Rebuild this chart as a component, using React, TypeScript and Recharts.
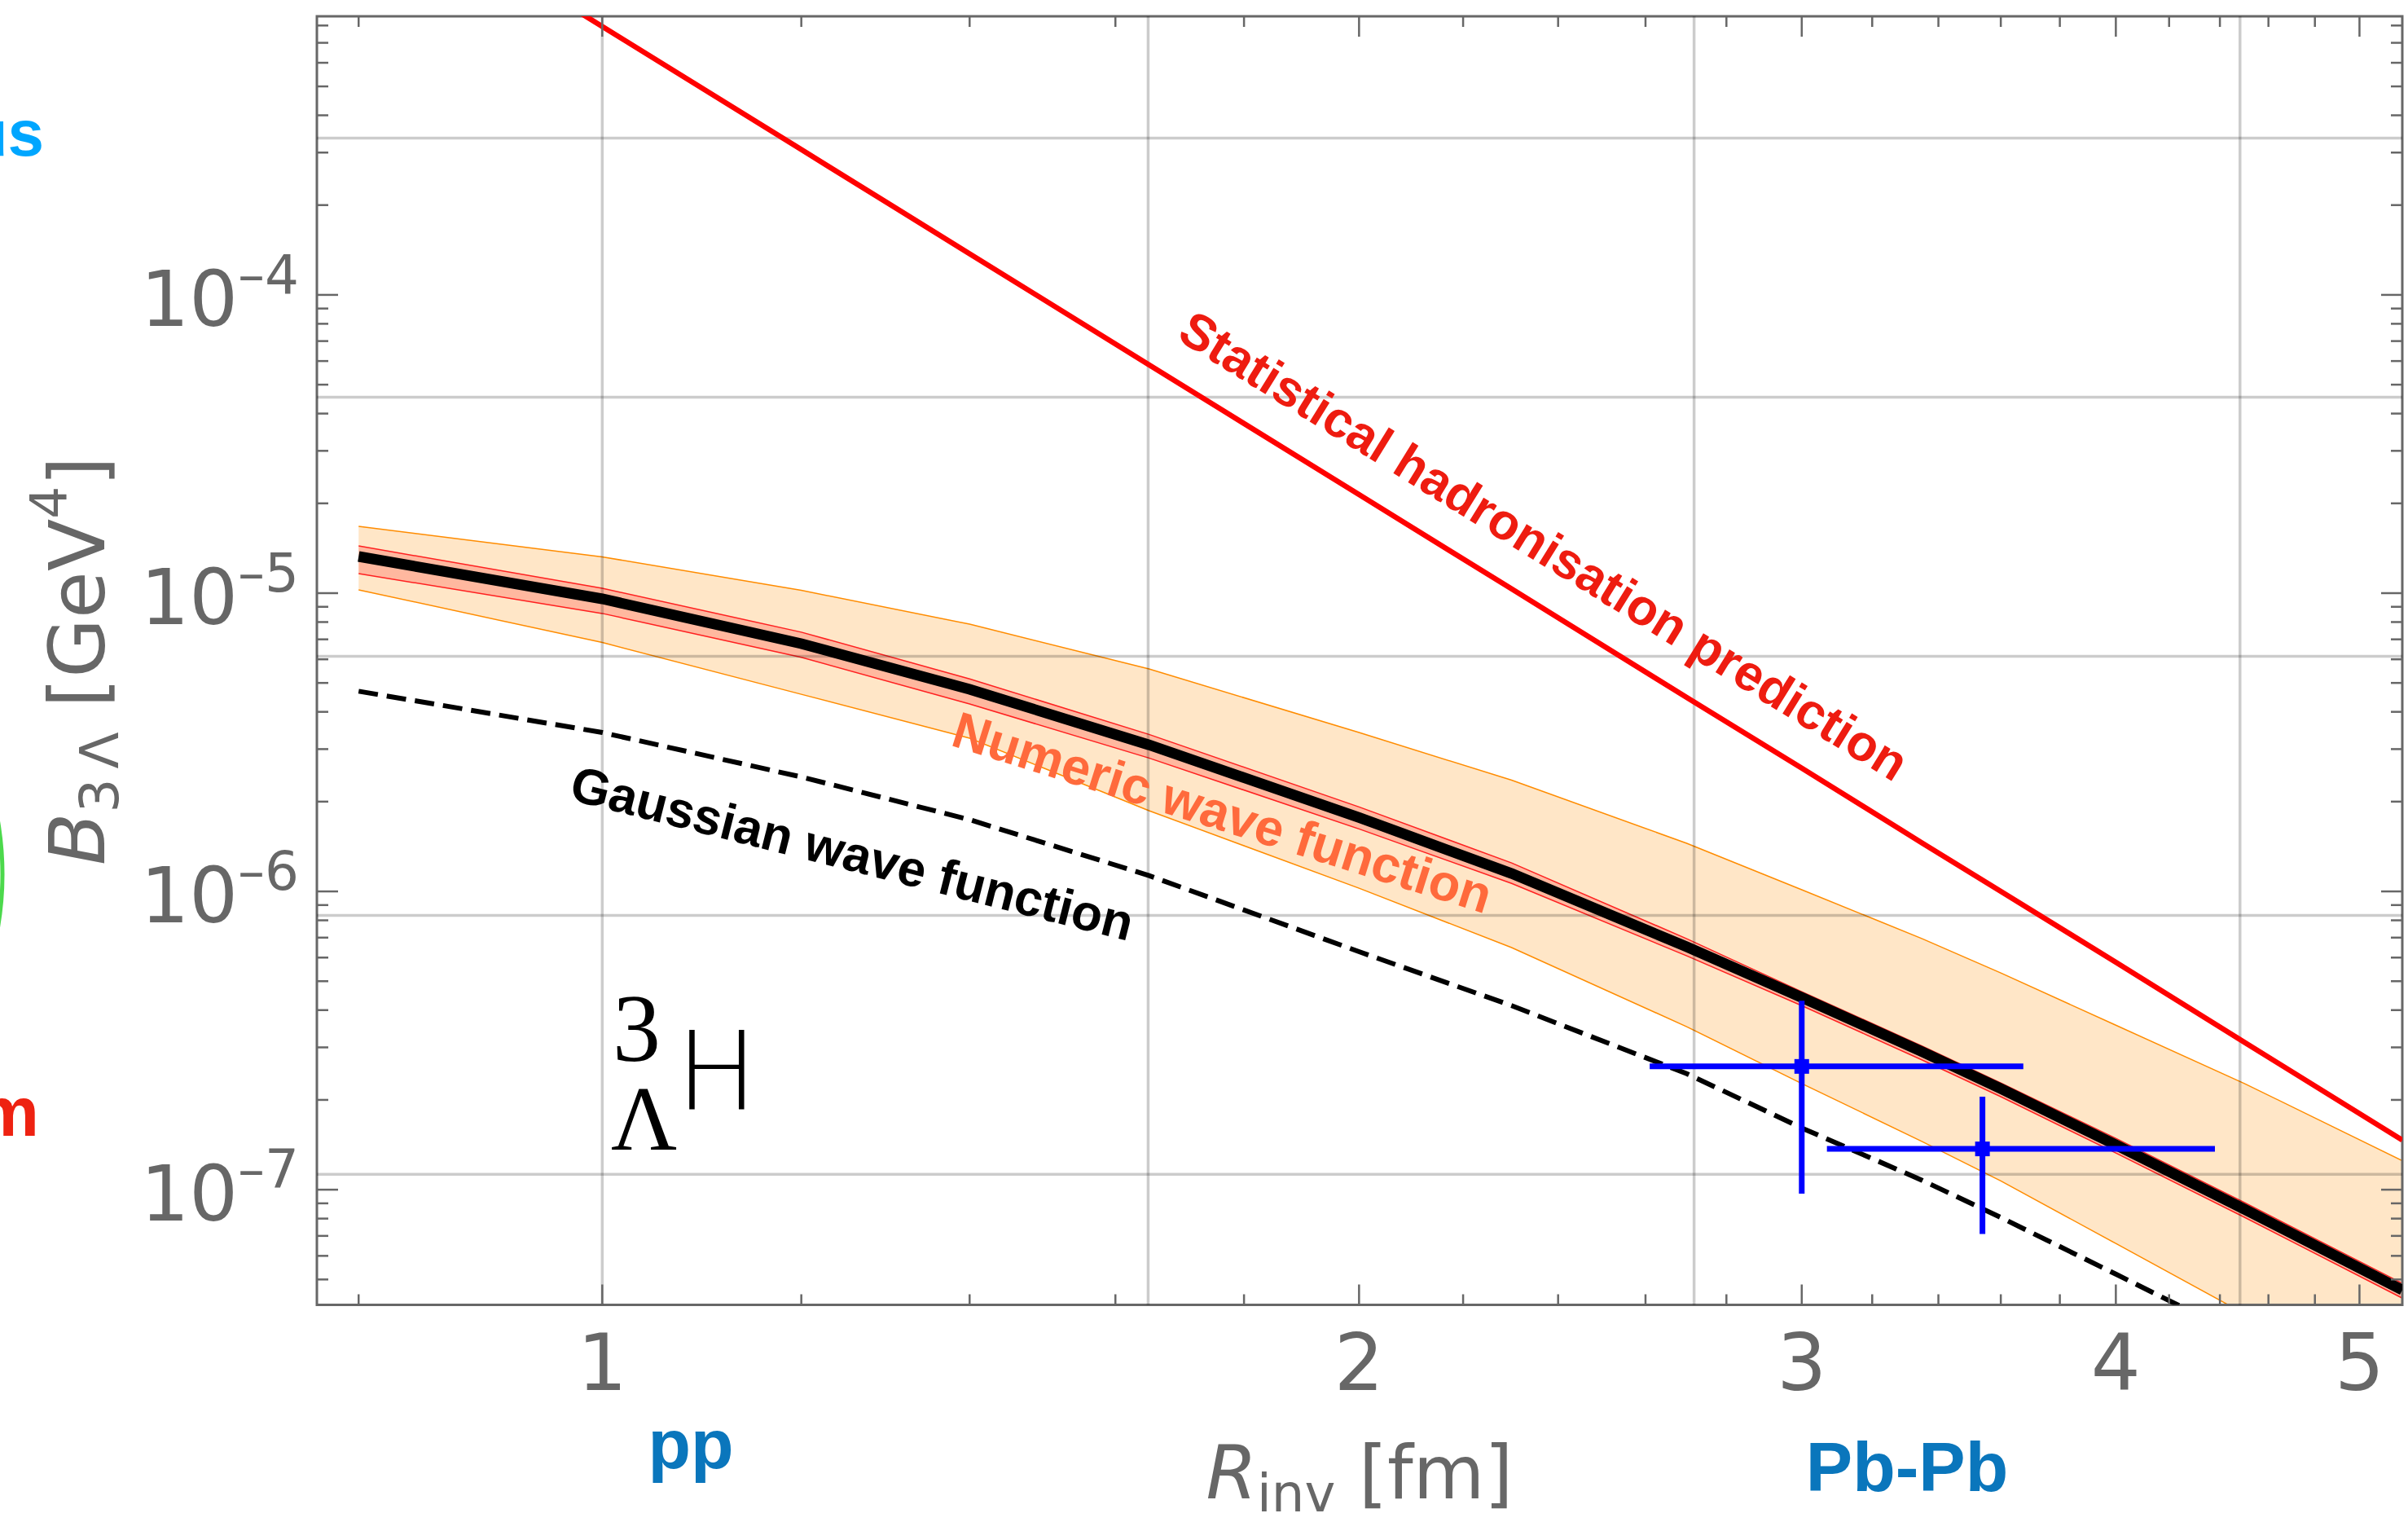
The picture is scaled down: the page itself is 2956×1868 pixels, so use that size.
import React from 'react';
import {
  ComposedChart,
  Line,
  Area,
  Scatter,
  ErrorBar,
  XAxis,
  YAxis,
  ReferenceLine,
  ReferenceArea,
} from 'recharts';

// canvas + plot frame (pixels)
const W = 2956;
const H = 1868;
const PLOT_LEFT = 389;
const PLOT_RIGHT = 2949;
const PLOT_TOP = 20;
const PLOT_BOTTOM = 1601.5;

const AXIS = '#676767';

// axis ranges
const X_DOMAIN = [0.77, 5.2];
const Y_DOMAIN = [4.11e-8, 8.59e-4];

// R_inv [fm] at which the curves were read
const R_INV = [0.8, 1.0, 1.2, 1.4, 1.65, 2.0, 2.3, 2.7, 3.0, 3.35, 3.6, 4.0, 4.5, 5.2];
// numeric wave function (central) and its two bands
const NUMERIC = [1.327e-5, 9.57e-6, 6.77e-6, 4.76e-6, 3.1e-6, 1.77e-6, 1.148e-6, 6.52e-7, 4.41e-7, 2.9e-7, 2.18e-7, 1.413e-7, 8.6e-8, 4.61e-8];
const NUMERIC_LO = [1.163e-5, 8.55e-6, 6.09e-6, 4.25e-6, 2.8e-6, 1.62e-6, 1.064e-6, 6.08e-7, 4.14e-7, 2.72e-7, 2.05e-7, 1.327e-7, 8.08e-8, 4.33e-8];
const NUMERIC_HI = [1.44e-5, 1.038e-5, 7.4e-6, 5.16e-6, 3.36e-6, 1.92e-6, 1.246e-6, 6.94e-7, 4.61e-7, 3.03e-7, 2.28e-7, 1.486e-7, 9.05e-8, 4.85e-8];
const UNC_LO = [1.026e-5, 6.83e-6, 4.58e-6, 3.265e-6, 1.865e-6, 1.025e-6, 6.48e-7, 3.52e-7, 2.27e-7, 1.45e-7, 1.07e-7, 6.6e-8, 3.84e-8, 1.94e-8];
const UNC_HI = [1.675e-5, 1.323e-5, 1.022e-5, 7.87e-6, 5.57e-6, 3.41e-6, 2.36e-6, 1.45e-6, 1.013e-6, 6.94e-7, 5.33e-7, 3.56e-7, 2.27e-7, 1.25e-7];
// gaussian wave function (dashed)
const GAUSSIAN = [4.69e-6, 3.41e-6, 2.42e-6, 1.74e-6, 1.13e-6, 6.28e-7, 4.14e-7, 2.45e-7, 1.61e-7, 1.075e-7, 8.07e-8, 5.21e-8, 3.18e-8, 1.7e-8];
// statistical hadronisation prediction (red)
const SHM = [2.54e-3, 7.94e-4, 3.07e-4, 1.374e-4, 5.83e-5, 2.14e-5, 1.033e-5, 4.47e-6, 2.59e-6, 1.453e-6, 1.0e-6, 5.79e-7, 3.12e-7, 1.467e-7];

// measured points (Pb-Pb)
const DATA_R = [3.0, 3.54];
const DATA_B = [2.59e-7, 1.37e-7];
const DATA_R_ERR = [[0.39, 0.675], [0.47, 0.84]];
const DATA_B_ERR = [[1.62e-7, 1.71e-7], [6.6e-8, 6.8e-8]];

// ticks and grid
const X_TICKS = [0.8, 1, 1.2, 1.4, 1.6, 1.8, 2, 2.2, 2.4, 2.6, 2.8, 3, 3.2, 3.4, 3.6, 3.8, 4, 4.2, 4.4, 4.6, 4.8, 5];
const X_LABELED = [1, 2, 3, 4, 5];
const Y_DECADES = [1e-8, 1e-7, 1e-6, 1e-5, 1e-4];
const Y_MULT = [1, 2, 3, 4, 5, 6, 7, 8, 9];
const GRID_R = [1, 1.6487, 2.7183, 4.4817];
const GRID_B = [1.1254e-7, 8.3153e-7, 6.1442e-6, 4.54e-5, 3.3546e-4];

const curveData = R_INV.map((r, i) => ({
  r,
  numeric: NUMERIC[i],
  inner: [NUMERIC_LO[i], NUMERIC_HI[i]],
  outer: [UNC_LO[i], UNC_HI[i]],
  gauss: GAUSSIAN[i],
  shm: SHM[i],
}));

const pointData = DATA_R.map((r, i) => ({
  r,
  b: DATA_B[i],
  rErr: DATA_R_ERR[i],
  bErr: DATA_B_ERR[i],
}));

const yTicks = Y_DECADES.flatMap((d) => Y_MULT.map((m) => m * d)).filter(
  (v) => v >= Y_DOMAIN[0] && v <= Y_DOMAIN[1]
);

const XTick = (props: any) => {
  const { x, payload } = props;
  const major = X_LABELED.includes(payload.value);
  const len = major ? 25 : 13;
  return (
    <g>
      <line x1={x} x2={x} y1={PLOT_BOTTOM} y2={PLOT_BOTTOM - len} stroke={AXIS} strokeWidth={2.5} />
      <line x1={x} x2={x} y1={PLOT_TOP} y2={PLOT_TOP + len} stroke={AXIS} strokeWidth={2.5} />
      {major && (
        <text x={x} y={PLOT_BOTTOM + 104} textAnchor="middle" fill={AXIS} fontFamily="DejaVu Sans" fontSize={96}>
          {payload.value}
        </text>
      )}
    </g>
  );
};

const YTick = (props: any) => {
  const { y, payload } = props;
  const v = payload.value;
  const exp = Math.round(Math.log10(v));
  const major = Math.abs(v / Math.pow(10, exp) - 1) < 1e-6;
  const len = major ? 26 : 14;
  return (
    <g>
      <line x1={PLOT_LEFT} x2={PLOT_LEFT + len} y1={y} y2={y} stroke={AXIS} strokeWidth={2.5} />
      <line x1={PLOT_RIGHT - len} x2={PLOT_RIGHT} y1={y} y2={y} stroke={AXIS} strokeWidth={2.5} />
      {major && (
        <text x={PLOT_LEFT - 22} y={y + 38} textAnchor="end" fill={AXIS} fontFamily="DejaVu Sans" fontSize={94}>
          10
          <tspan dy={-40} fontSize={66}>
            {'\u2013' + Math.abs(exp)}
          </tspan>
        </text>
      )}
    </g>
  );
};

const PointMarker = (props: any) => {
  const { cx, cy } = props;
  return <rect x={cx - 9} y={cy - 9} width={18} height={18} fill="#0000ff" />;
};

export default function App() {
  return (
    <div style={{ position: 'absolute', left: 0, top: 0, width: W, height: H, background: '#fff' }}>
      <ComposedChart
        width={W}
        height={H}
        data={curveData}
        margin={{ top: PLOT_TOP, right: W - PLOT_RIGHT, bottom: H - PLOT_BOTTOM - 1, left: PLOT_LEFT - 1 }}
      >
        <XAxis
          dataKey="r"
          type="number"
          scale="log"
          domain={X_DOMAIN}
          allowDataOverflow
          ticks={X_TICKS}
          interval={0}
          height={1}
          axisLine={false}
          tickLine={false}
          tick={XTick}
        />
        <YAxis
          type="number"
          scale="log"
          domain={Y_DOMAIN}
          allowDataOverflow
          ticks={yTicks}
          interval={0}
          width={1}
          axisLine={false}
          tickLine={false}
          tick={YTick}
        />
        {GRID_R.map((v) => (
          <ReferenceLine key={`gx${v}`} x={v} stroke="rgba(0,0,0,0.2)" strokeWidth={3.5} />
        ))}
        {GRID_B.map((v) => (
          <ReferenceLine key={`gy${v}`} y={v} stroke="rgba(0,0,0,0.2)" strokeWidth={3.5} />
        ))}
        <Area
          dataKey="outer"
          type="linear"
          fill="#ff8c00"
          fillOpacity={0.22}
          stroke="#ff8c00"
          strokeWidth={1.5}
          dot={false}
          activeDot={false}
          isAnimationActive={false}
        />
        <Area
          dataKey="inner"
          type="linear"
          fill="#ff0000"
          fillOpacity={0.2}
          stroke="#ff2020"
          strokeWidth={1.5}
          dot={false}
          activeDot={false}
          isAnimationActive={false}
        />
        <Line
          dataKey="gauss"
          type="linear"
          stroke="#000"
          strokeWidth={6}
          strokeDasharray="24 11"
          dot={false}
          activeDot={false}
          isAnimationActive={false}
        />
        <Line
          dataKey="shm"
          type="linear"
          stroke="#ff0000"
          strokeWidth={6.5}
          dot={false}
          activeDot={false}
          isAnimationActive={false}
        />
        <Line
          dataKey="numeric"
          type="linear"
          stroke="#000"
          strokeWidth={13}
          dot={false}
          activeDot={false}
          isAnimationActive={false}
        />
        <Scatter data={pointData} dataKey="b" shape={PointMarker} isAnimationActive={false}>
          <ErrorBar dataKey="bErr" direction="y" width={0} stroke="#0000ff" strokeWidth={7} />
          <ErrorBar dataKey="rErr" direction="x" width={0} stroke="#0000ff" strokeWidth={7} />
        </Scatter>
        <ReferenceArea
          x1={X_DOMAIN[0]}
          x2={X_DOMAIN[1]}
          y1={Y_DOMAIN[0]}
          y2={Y_DOMAIN[1]}
          fill="none"
          stroke={AXIS}
          strokeWidth={3}
        />
      </ComposedChart>

      <svg
        width={W}
        height={H}
        style={{ position: 'absolute', left: 0, top: 0, pointerEvents: 'none' }}
      >
        {/* bits of the slide cut off at the left */}
        <text x={54} y={191} textAnchor="end" fontFamily="Liberation Sans" fontWeight="bold" fontSize={80} fill="#00a6ff">
          us
        </text>
        <text x={48} y={1394} textAnchor="end" fontFamily="Liberation Sans" fontWeight="bold" fontSize={86} fill="#ee2211">
          m
        </text>
        <circle cx={-382} cy={1073} r={385} fill="none" stroke="#4cd94c" strokeWidth={5} />

        {/* axis titles */}
        <text transform="translate(128,811) rotate(-90)" textAnchor="middle" fontFamily="DejaVu Sans" fontSize={94} fill={AXIS}>
          <tspan fontStyle="italic">B</tspan>
          <tspan fontSize={66} dy={17}>3</tspan>
          <tspan fontSize={66} dx={12}>Λ</tspan>
          <tspan dy={-17}>{'\u00a0[GeV'}</tspan>
          <tspan fontSize={63} dy={-46}>4</tspan>
          <tspan dy={46}>]</tspan>
        </text>
        <text x={1669} y={1839} textAnchor="middle" fontFamily="DejaVu Sans" fontSize={90} fill={AXIS}>
          <tspan fontStyle="italic">R</tspan>
          <tspan fontSize={64} dy={16}>inv</tspan>
          <tspan dy={-16}>{'\u00a0[fm]'}</tspan>
        </text>

        {/* collision systems */}
        <text x={848} y={1802} textAnchor="middle" fontFamily="Liberation Sans" fontWeight="bold" fontSize={86} fill="#0a76bc">
          pp
        </text>
        <text x={2341} y={1830} textAnchor="middle" fontFamily="Liberation Sans" fontWeight="bold" fontSize={86} fill="#0a76bc">
          Pb-Pb
        </text>

        {/* curve labels */}
        <text transform="translate(1884,688) rotate(31.7)" textAnchor="middle" fontFamily="Liberation Sans" fontWeight="bold" fontSize={62} fill="#ee1c10">
          Statistical hadronisation prediction
        </text>
        <text transform="translate(1494,1018) rotate(17.5)" textAnchor="middle" fontFamily="Liberation Sans" fontWeight="bold" fontSize={63} fill="#ff6a3c">
          Numeric wave function
        </text>
        <text transform="translate(1041,1068) rotate(14.2)" textAnchor="middle" fontFamily="Liberation Sans" fontWeight="bold" fontSize={62} fill="#000">
          Gaussian wave function
        </text>

        {/* hypertriton */}
        <text x={752} y={1302} fontFamily="Liberation Serif" fontSize={118} fill="#000">3</text>
        <text x={750} y={1411} fontFamily="Liberation Serif" fontSize={112} fill="#000">Λ</text>
        <text x={830} y={1361} fontFamily="DejaVu Sans" fontWeight={200} fontSize={133} fill="#000">H</text>
      </svg>
    </div>
  );
}
